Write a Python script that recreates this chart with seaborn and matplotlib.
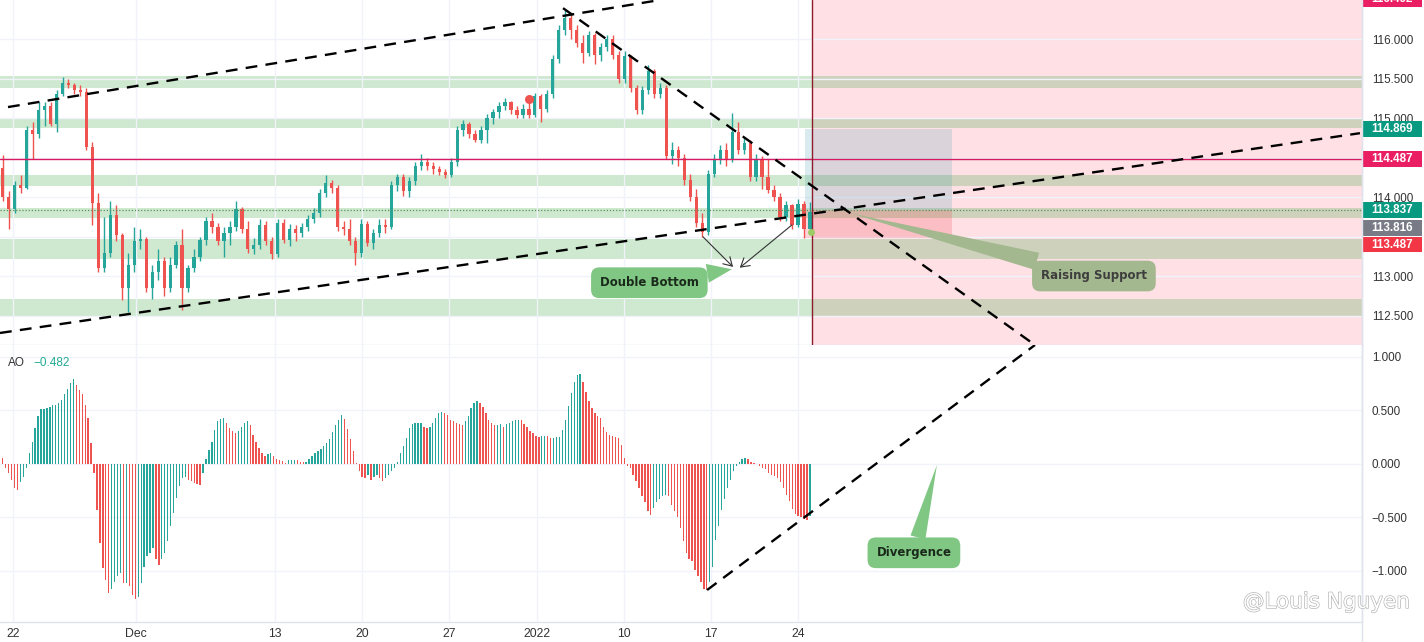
import numpy as np
import pandas as pd
import matplotlib
matplotlib.use("Agg")
import matplotlib.pyplot as plt
import matplotlib.patheffects as pe
import matplotlib.transforms as mtrans
from matplotlib.patches import Rectangle
from matplotlib.lines import Line2D
import seaborn as sns

# USD/JPY 8h candles, 22 Nov 2021 -> 24 Jan 2022
first_open = 114.37
close = [114.00, 113.85, 114.15, 114.12, 114.85, 114.80, 115.10, 115.15, 114.92, 115.30,
         115.45, 115.42, 115.35, 115.33, 114.63, 113.93, 113.10, 113.30, 113.78, 113.52,
         112.85, 113.15, 113.45, 113.47, 112.85, 113.05, 113.20, 112.85, 113.15, 113.40,
         112.85, 113.10, 113.25, 113.46, 113.70, 113.62, 113.45, 113.55, 113.62, 113.85,
         113.60, 113.35, 113.40, 113.65, 113.45, 113.28, 113.68, 113.46, 113.60, 113.55,
         113.62, 113.72, 113.80, 114.05, 114.18, 114.12, 113.62, 113.60, 113.45, 113.30,
         113.66, 113.42, 113.55, 113.65, 113.62, 114.15, 114.25, 114.08, 114.20, 114.40,
         114.45, 114.40, 114.36, 114.32, 114.28, 114.45, 114.85, 114.92, 114.80, 114.72,
         114.85, 115.00, 115.08, 115.15, 115.20, 115.10, 115.04, 115.12, 115.04, 115.28,
         115.12, 115.30, 115.75, 116.12, 116.26, 116.12, 115.95, 115.82, 116.05, 115.80,
         115.90, 116.00, 115.80, 115.50, 115.78, 115.38, 115.10, 115.35, 115.60, 115.30,
         115.38, 114.52, 114.60, 114.50, 114.22, 114.00, 113.68, 113.56, 114.30, 114.48,
         114.60, 114.47, 114.82, 114.60, 114.68, 114.25, 114.48, 114.25, 114.09, 114.00,
         113.75, 113.90, 113.65, 113.92, 113.60, 113.82]
high = [114.53, 114.08, 114.20, 114.28, 114.90, 114.95, 115.20, 115.20, 115.20, 115.35,
        115.52, 115.50, 115.45, 115.42, 115.38, 114.70, 114.05, 113.75, 113.95, 113.90,
        113.55, 113.30, 113.62, 113.60, 113.50, 113.15, 113.35, 113.25, 113.25, 113.45,
        113.60, 113.15, 113.35, 113.50, 113.75, 113.80, 113.68, 113.62, 113.70, 113.95,
        113.88, 113.70, 113.48, 113.72, 113.70, 113.50, 113.72, 113.72, 113.66, 113.65,
        113.68, 113.78, 113.86, 114.10, 114.28, 114.22, 114.15, 113.70, 113.72, 113.50,
        113.72, 113.70, 113.60, 113.72, 113.72, 114.20, 114.30, 114.30, 114.25, 114.45,
        114.55, 114.50, 114.45, 114.40, 114.36, 114.50, 114.90, 114.98, 114.95, 114.85,
        114.90, 115.05, 115.12, 115.20, 115.25, 115.22, 115.15, 115.18, 115.20, 115.32,
        115.30, 115.35, 115.80, 116.18, 116.37, 116.30, 116.18, 116.05, 116.10, 116.08,
        115.95, 116.05, 116.05, 115.85, 115.85, 115.80, 115.42, 115.40, 115.67, 115.62,
        115.45, 115.42, 114.70, 114.65, 114.55, 114.30, 114.10, 113.80, 114.35, 114.55,
        114.66, 114.68, 115.07, 114.95, 114.75, 114.72, 114.55, 114.52, 114.48, 114.15,
        114.05, 113.95, 113.92, 113.98, 113.95, 113.94]
low = [113.95, 113.60, 113.80, 114.05, 114.10, 114.48, 114.75, 114.90, 114.90, 114.82,
       115.28, 115.38, 115.30, 115.28, 114.60, 113.65, 113.05, 113.05, 113.25, 113.45,
       112.70, 112.55, 113.05, 113.35, 112.80, 112.72, 112.95, 112.75, 112.80, 113.10,
       112.57, 112.80, 113.05, 113.20, 113.40, 113.55, 113.40, 113.25, 113.40, 113.58,
       113.55, 113.30, 113.28, 113.35, 113.40, 113.22, 113.25, 113.42, 113.38, 113.45,
       113.50, 113.58, 113.68, 113.75, 114.00, 114.05, 113.58, 113.52, 113.40, 113.14,
       113.25, 113.38, 113.35, 113.50, 113.55, 113.60, 114.08, 114.02, 114.00, 114.15,
       114.35, 114.35, 114.30, 114.28, 114.24, 114.26, 114.40, 114.78, 114.75, 114.70,
       114.68, 114.68, 114.92, 115.00, 115.10, 115.05, 115.00, 115.00, 115.00, 115.02,
       114.95, 115.08, 115.25, 115.70, 116.05, 116.00, 115.90, 115.70, 115.78, 115.68,
       115.72, 115.85, 115.75, 115.45, 115.45, 115.33, 115.05, 115.05, 115.30, 115.25,
       115.25, 114.48, 114.42, 114.40, 114.15, 113.95, 113.62, 113.50, 113.52, 114.25,
       114.42, 114.40, 114.45, 114.55, 114.55, 114.20, 114.20, 114.10, 114.05, 113.95,
       113.70, 113.70, 113.60, 113.62, 113.49, 113.55]

# Awesome Oscillator, 4h bars
ao = [0.06, -0.04, -0.08, -0.15, -0.22, -0.24, -0.17, -0.12, -0.04, 0.10,
      0.21, 0.34, 0.45, 0.51, 0.51, 0.52, 0.53, 0.55, 0.55, 0.57,
      0.60, 0.65, 0.70, 0.76, 0.79, 0.74, 0.69, 0.65, 0.55, 0.43,
      0.20, -0.08, -0.43, -0.74, -0.97, -1.08, -1.21, -1.17, -1.10, -1.05,
      -1.02, -1.11, -1.11, -1.14, -1.22, -1.26, -1.24, -1.11, -0.96, -0.86,
      -0.83, -0.79, -0.89, -0.94, -0.89, -0.83, -0.72, -0.58, -0.46, -0.32,
      -0.21, -0.13, -0.12, -0.15, -0.16, -0.18, -0.19, -0.20, -0.08, 0.05,
      0.13, 0.21, 0.32, 0.40, 0.42, 0.43, 0.38, 0.34, 0.31, 0.29,
      0.31, 0.35, 0.38, 0.40, 0.36, 0.27, 0.21, 0.15, 0.10, 0.07,
      0.09, 0.10, 0.07, 0.05, 0.04, 0.03, 0.01, 0.04, 0.04, 0.04,
      0.035, 0.02, 0.015, 0.02, 0.05, 0.07, 0.10, 0.12, 0.14, 0.17,
      0.20, 0.23, 0.30, 0.36, 0.41, 0.46, 0.42, 0.33, 0.23, 0.12,
      0.01, -0.07, -0.12, -0.13, -0.10, -0.15, -0.12, -0.10, -0.13, -0.16,
      -0.13, -0.10, -0.07, -0.04, 0.02, 0.10, 0.17, 0.24, 0.34, 0.37,
      0.38,
      0.38, 0.38, 0.35, 0.34, 0.35, 0.38, 0.43, 0.48, 0.49, 0.48,
      0.46, 0.41, 0.40, 0.38, 0.37, 0.36, 0.40, 0.45, 0.52, 0.57,
      0.59, 0.57, 0.53, 0.48, 0.41, 0.38, 0.36, 0.36, 0.37, 0.35,
      0.37, 0.38, 0.40, 0.41, 0.415, 0.41, 0.37, 0.35, 0.31, 0.29,
      0.26, 0.25, 0.26, 0.265, 0.26, 0.24, 0.24, 0.25, 0.25, 0.32,
      0.41, 0.54, 0.66, 0.77, 0.83, 0.84, 0.77, 0.67, 0.59, 0.52,
      0.48, 0.45, 0.43, 0.35, 0.30, 0.27, 0.265, 0.25, 0.24, 0.18,
      0.06, -0.02, -0.04, -0.10, -0.16, -0.22, -0.30, -0.36, -0.44, -0.48,
      -0.41, -0.36, -0.33, -0.30, -0.29, -0.30, -0.38, -0.44, -0.50, -0.60,
      -0.72, -0.83, -0.89, -0.91, -0.99, -1.05, -1.10, -1.17, -1.18, -1.10,
      -0.96, -0.71, -0.58, -0.43, -0.33, -0.22, -0.15, -0.07, -0.02, 0.02,
      0.05, 0.06, 0.05, 0.02, 0.01, 0.003, -0.015, -0.04, -0.05, -0.08,
      -0.10, -0.115, -0.13, -0.17, -0.22, -0.29, -0.35, -0.42, -0.47, -0.49,
      -0.50, -0.51, -0.52, -0.482]

zone_lo = [115.38, 114.875, 114.14, 113.74, 113.22, 112.50]
zone_hi = [115.53, 114.99, 114.28, 113.865, 113.47, 112.71]

date_ticks = [3.5, 45.2, 92.4, 122.0, 151.5, 181.4, 210.9, 240.4, 270.0]
date_labels = ["22", "Dec", "13", "20", "27", "2022", "10", "17", "24"]

price_ticks = [112.5, 113.0, 113.5, 114.0, 114.5, 115.0, 115.5, 116.0]
price_tick_labels = ["112.500", "113.000", "", "114.000", "", "115.000", "115.500", "116.000"]

price_labels = ["116.492", "114.869", "114.487", "113.837", "113.816", "113.487"]
price_label_pos = [116.505, 114.863, 114.484, 113.839, 113.612, 113.403]
price_label_col = ["#e91e63", "#089981", "#e91e63", "#089981", "#787b86", "#f23645"]

entry, target, stop = 113.837, 114.869, 113.487
pos_start, pos_end = 272.3, 322.2
marker_line = 114.487
now_x = 274.7

GREEN = "#26a69a"
RED = "#ef5350"

sns.set_theme(style="white")
plt.rcParams["font.family"] = ["Liberation Sans", "DejaVu Sans"]

fig = plt.figure(figsize=(14.24, 6.42), dpi=100)
ax1 = fig.add_axes([0, 297 / 642, 1362 / 1424, 345 / 642])
ax2 = fig.add_axes([0, 20 / 642, 1362 / 1424, 277 / 642])

xmin, xmax = -0.92, 461.4

# ---------------- price panel ----------------
px = np.linspace(0, len(ao) - 1, len(close))
c = np.array(close)
o = np.concatenate([[first_open], c[:-1]])
h = np.array(high)
l = np.array(low)
cols = np.where(c >= o, GREEN, RED)

ax1.axvspan(now_x, xmax, color="#ffe0e5", lw=0, zorder=0.2)
for lo, hi in zip(zone_lo, zone_hi):
    ax1.axhspan(lo, hi, color="#4caf50", alpha=0.27, lw=0, zorder=0.5)
ax1.add_patch(Rectangle((pos_start, entry), pos_end - pos_start, target - entry,
                        fc="#4a9fb0", alpha=0.2, lw=0, zorder=0.6))
ax1.add_patch(Rectangle((pos_start, stop), pos_end - pos_start, entry - stop,
                        fc="#f23645", alpha=0.2, lw=0, zorder=0.6))

ax1.vlines(px, l, h, colors=cols, lw=1, zorder=2)
ax1.bar(px, np.where(np.abs(c - o) < 0.01, 0.01, c - o), bottom=o, width=1.1,
        color=cols, lw=0, zorder=2.1)

ax1.axhline(marker_line, color="#d81b60", lw=1, zorder=2.5)
ax1.axhline(entry, color="#5a8f5a", lw=0.9, ls=(0, (1, 1.5)), zorder=2.5)
ax1.axvline(now_x, color="#8e1a2a", lw=1, zorder=2.6)

dash = dict(color="black", lw=1.7, dashes=(5, 3.5), zorder=3)
ax1.plot([1.8, 223.1], [115.14, 116.493], **dash)
ax1.plot([xmin, 460.7], [112.285, 114.81], **dash)
ax1.plot([190.2, 350.4], [116.39, 112.133], **dash)

ax1.plot([178.6], [115.24], "o", color=RED, ms=6.5, mec="none", zorder=3.2)
ax1.plot([274.4], [113.56], "o", color="#9ccc65", ms=5, mec="none", zorder=3.2)

arr = dict(arrowstyle="->,head_length=0.5,head_width=0.3", color="#333333", lw=0.8,
           shrinkA=0, shrinkB=0)
ax1.annotate("", xy=(247.9, 113.12), xytext=(237.7, 113.50), arrowprops=arr, zorder=3)
ax1.annotate("", xy=(250.2, 113.11), xytext=(267.9, 113.65), arrowprops=arr, zorder=3)


def callout(ax, text, tip, center, fc, tc, tail):
    ax.annotate(text, xy=tip, xytext=center, ha="center", va="center",
                fontsize=8.5, fontweight="bold", color=tc, family="DejaVu Sans",
                bbox=dict(boxstyle="round,pad=0.75,rounding_size=0.7", fc=fc, ec="none"),
                arrowprops=dict(arrowstyle=f"wedge,tail_width={tail},shrink_factor=0.5",
                                fc=fc, ec="none", shrinkA=0, shrinkB=0),
                zorder=5, annotation_clip=False)


callout(ax1, "Double Bottom", (247.5, 113.09), (219.5, 112.92), "#81c784", "#1a2a1a", 1.6)
callout(ax1, "Raising Support", (287.6, 113.80), (370.4, 113.005), "#a4b890", "#3d3d3d", 1.5)

ax1.set_xlim(xmin, xmax)
ax1.set_ylim(112.133, 116.493)
ax1.set_xticks(date_ticks)
ax1.set_xticklabels([])
ax1.set_yticks(price_ticks)
ax1.set_yticklabels(price_tick_labels)
ax1.yaxis.tick_right()
ax1.tick_params(axis="y", length=0, pad=7, labelsize=8.4, labelcolor="#333333")
ax1.tick_params(axis="x", length=0)
ax1.grid(True, color="#f0f3fa", lw=1)
ax1.set_axisbelow(True)
for s in ["top", "left"]:
    ax1.spines[s].set_visible(False)
for s in ["bottom", "right"]:
    ax1.spines[s].set_color("#e0e3eb")
    ax1.spines[s].set_linewidth(1)

tr = mtrans.blended_transform_factory(ax1.transAxes, ax1.transData)
box_h = 0.2
for txt, yv, col in zip(price_labels, price_label_pos, price_label_col):
    ax1.add_patch(Rectangle((1.0007, yv - box_h / 2), 0.0433, box_h, transform=tr,
                            fc=col, ec="none", clip_on=False, zorder=6))
    ax1.text(1.0007 + 0.0433 / 2, yv, txt, transform=tr, ha="center", va="center",
             color="white", fontsize=8.4, fontweight="bold", clip_on=False, zorder=7)

# ---------------- AO panel ----------------
ao_df = pd.DataFrame({"bar": np.arange(len(ao)), "ao": ao})
ao_df["dir"] = np.where(ao_df["ao"].diff().fillna(-1) >= 0, "up", "down")
sns.barplot(data=ao_df, x="bar", y="ao", hue="dir", palette={"up": GREEN, "down": RED},
            native_scale=True, dodge=False, width=0.45, errorbar=None, legend=False,
            saturation=1, linewidth=0, ax=ax2)
ax2.set(xlabel="", ylabel="")

ax2.plot([239.1, 350.4], [-1.178, 1.112], **dash)
callout(ax2, "Divergence", (317.1, -0.01), (309.3, -0.83), "#81c784", "#1a2a1a", 1.3)

ax2.set_xlim(xmin, xmax)
ax2.set_ylim(-1.477, 1.112)
ax2.set_xticks(date_ticks)
ax2.set_xticklabels(date_labels)
at = [-1.0, -0.5, 0.0, 0.5, 1.0]
ax2.set_yticks(at)
ax2.set_yticklabels([f"{v:.3f}".replace("-", "\u2212") for v in at])
ax2.yaxis.tick_right()
ax2.tick_params(axis="y", length=0, pad=7, labelsize=8.4, labelcolor="#333333")
ax2.tick_params(axis="x", length=0, pad=4, labelsize=8.8, labelcolor="#333333")
ax2.grid(True, color="#f0f3fa", lw=1)
ax2.set_axisbelow(True)
for s in ["top", "left"]:
    ax2.spines[s].set_visible(False)
for s in ["bottom", "right"]:
    ax2.spines[s].set_color("#e0e3eb")
    ax2.spines[s].set_linewidth(1)

ax2.text(8 / 1362, 0.935, "AO", transform=ax2.transAxes, fontsize=8.5,
         color="#333333", va="center")
ax2.text(33 / 1362, 0.935, "\u22120.482", transform=ax2.transAxes, fontsize=8.5,
         color="#22ab94", va="center")

fig.add_artist(Line2D([1362 / 1424] * 2, [0, 1], transform=fig.transFigure,
                      color="#e0e3eb", lw=1))
fig.text(1410 / 1424, 1 - 602 / 642, "@Louis Nguyen", ha="right", va="center",
         fontsize=15.5, color="white", family="DejaVu Sans",
         path_effects=[pe.withStroke(linewidth=0.9, foreground="#b0b0b0")])

fig.savefig("out.png", dpi=100, facecolor="white")
